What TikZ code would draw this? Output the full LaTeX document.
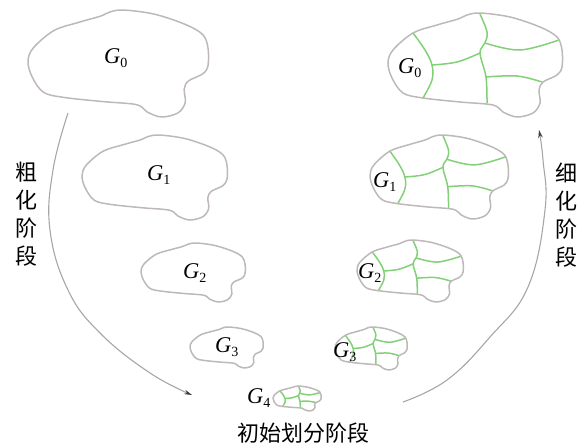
\documentclass[tikz,border=0pt]{standalone}
\usepackage{fontspec}
\setmainfont{Liberation Serif}
\newfontfamily\cjk{Noto Sans CJK SC}
\usetikzlibrary{arrows.meta}
\definecolor{outl}{RGB}{190,184,184}
\definecolor{grn}{RGB}{130,208,120}
\definecolor{arcc}{RGB}{170,165,165}
\definecolor{tipc}{RGB}{60,60,60}
\newcommand\Gs[1]{\textit{G}\raisebox{-4pt}{\fontsize{14}{14}\selectfont #1}}
% #1,#2 top-left; #3,#4 width,height
\newcommand\blobout[4]{%
  \begin{scope}[shift={(#1,#2)},xscale={#3/174},yscale={#4/104}]
    \draw[outline] plot[smooth cycle,tension=0.55] coordinates {(0,50) (5,37) (25,20) (49,12) (70,6) (79,2) (92,0) (122,4) (152,14) (169,24) (174,37) (174,54) (169,62) (155,69) (151,77) (152,90) (145,100) (129,104) (115,99) (105,92) (72,89) (35,85) (15,80) (4,65)};
  \end{scope}}
\newcommand\blobgreen[4]{%
  \begin{scope}[shift={(#1,#2)},xscale={#3/174},yscale={#4/104}]
    \draw[part] plot[smooth,tension=0.6] coordinates {(25,20) (37,37) (44,52) (44,67) (35,85)};
    \draw[part] plot[smooth,tension=0.6] coordinates {(44,52) (69,49) (92,40)};
    \draw[part] plot[smooth,tension=0.6] coordinates {(92,1) (99,19) (97,30) (92,40) (98,64) (99,90)};
    \draw[part] plot[smooth,tension=0.6] coordinates {(97,30) (132,37) (171,27)};
    \draw[part] plot[smooth,tension=0.6] coordinates {(98,64) (129,63) (154,69)};
    \draw[outline] plot[smooth cycle,tension=0.55] coordinates {(0,50) (5,37) (25,20) (49,12) (70,6) (79,2) (92,0) (122,4) (152,14) (169,24) (174,37) (174,54) (169,62) (155,69) (151,77) (152,90) (145,100) (129,104) (115,99) (105,92) (72,89) (35,85) (15,80) (4,65)};
  \end{scope}}
\tikzset{
  outline/.style={draw=outl,line width=1.5pt,line join=round},
  part/.style={draw=grn,line width=1.5pt,line cap=round},
  glabel/.style={inner sep=0pt,anchor=base west,font=\fontsize{22.5}{22.5}\selectfont},
  stage/.style={inner sep=0pt,font=\cjk\fontsize{22}{28}\selectfont,align=center},
  flow/.style={draw=arcc,line width=1.1pt,-{Stealth[length=8pt,width=4.5pt,color=tipc,fill=tipc]}}
}
\begin{document}
\begin{tikzpicture}[x=1pt,y=-1pt]
\useasboundingbox (0,0) rectangle (584,447);
% left column (coarsening)
\blobout{28}{10}{180}{107}
\blobout{82}{135}{145}{85}
\blobout{141}{243}{104}{59}
\blobout{190}{327}{73}{41}
% right column (refinement)
\blobgreen{388}{13}{174}{104}
\blobgreen{370}{135}{138}{84}
\blobgreen{357}{240}{106}{62}
\blobgreen{335}{327}{72}{43}
% bottom
\blobgreen{273}{386}{48}{25}
% labels
\node[glabel] (lg0) at (104,63) {\Gs{0}};
\node[glabel] (lg1) at (147,180) {\Gs{1}};
\node[glabel] (lg2) at (183,278) {\Gs{2}};
\node[glabel] (lg3) at (215,352) {\Gs{3}};
\node[glabel] (rg0) at (398,73) {\Gs{0}};
\node[glabel] (rg1) at (373,187) {\Gs{1}};
\node[glabel] (rg2) at (358,278) {\Gs{2}};
\node[glabel] (rg3) at (333,357) {\Gs{3}};
\node[glabel] (g4) at (247,403) {\Gs{4}};
% stage texts
\node[stage] (coarse) at (27,214) {粗\\化\\阶\\段};
\node[stage] (refine) at (566,215) {细\\化\\阶\\段};
\node[stage] (init) at (303,433) {初始划分阶段};
% arcs
\coordinate (a1) at (68,113);
\coordinate (a2) at (192,395);
\coordinate (b1) at (403,402);
\coordinate (b2) at (539,130);
\draw[flow] plot[smooth,tension=0.7] coordinates {(a1) (53,170) (50,230) (68,290) (100,333) (150,373) (a2)};
\draw[flow] plot[smooth,tension=0.7] coordinates {(b1) (447,380) (490,337) (528,287) (545,210) (543,160) (b2)};
\end{tikzpicture}
\end{document}
